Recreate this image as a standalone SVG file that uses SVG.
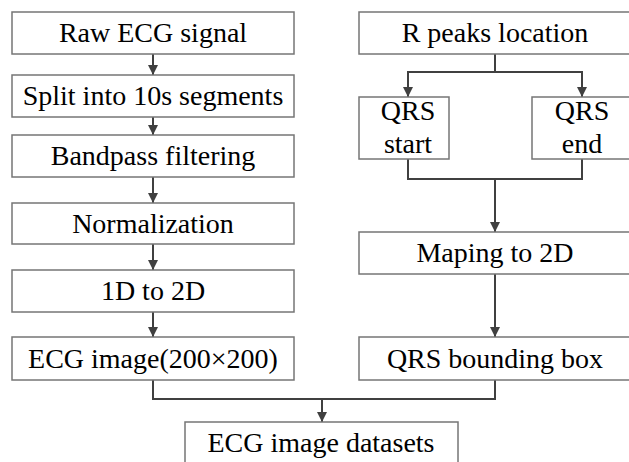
<svg xmlns="http://www.w3.org/2000/svg" width="629" height="462" viewBox="0 0 629 462">
<defs>
<style>
.box{fill:#fff;stroke:#767676;stroke-width:1.5}
.t{font-family:'Liberation Serif','DejaVu Serif',serif;font-size:28px;fill:#000;text-anchor:middle}
.c{fill:none;stroke:#404040;stroke-width:2}
</style>
<marker id="ah" viewBox="0 0 10 10" refX="10" refY="5" markerWidth="10" markerHeight="10" markerUnits="userSpaceOnUse" orient="auto">
<path d="M0,0 L10,5 L0,10 Z" fill="#404040"/>
</marker>
</defs>
<rect width="629" height="462" fill="#fff"/>
<g id="connectors">
<path class="c" d="M153,54 V75" marker-end="url(#ah)"/>
<path class="c" d="M153,117 V135" marker-end="url(#ah)"/>
<path class="c" d="M153,177 V203" marker-end="url(#ah)"/>
<path class="c" d="M153,244 V270" marker-end="url(#ah)"/>
<path class="c" d="M153,312 V337" marker-end="url(#ah)"/>
<path class="c" d="M495,54 V72"/>
<path class="c" d="M408,72 H582"/>
<path class="c" d="M408,71 V97" marker-end="url(#ah)"/>
<path class="c" d="M582,71 V97" marker-end="url(#ah)"/>
<path class="c" d="M408,159 V179 H582 V159"/>
<path class="c" d="M495,179 V232" marker-end="url(#ah)"/>
<path class="c" d="M495,274 V337" marker-end="url(#ah)"/>
<path class="c" d="M153,380 V399 H495 V380"/>
<path class="c" d="M322,399 V422" marker-end="url(#ah)"/>
</g>
<g id="raw"><rect class="box" x="12" y="12" width="282" height="42"/><text class="t" x="153" y="42">Raw ECG signal</text></g>
<g id="split"><rect class="box" x="12" y="75" width="282" height="42"/><text class="t" x="153" y="105">Split into 10s segments</text></g>
<g id="bandpass"><rect class="box" x="12" y="135" width="282" height="42"/><text class="t" x="153" y="165">Bandpass filtering</text></g>
<g id="norm"><rect class="box" x="12" y="203" width="282" height="41"/><text class="t" x="153" y="233">Normalization</text></g>
<g id="oned"><rect class="box" x="12" y="270" width="282" height="42"/><text class="t" x="153" y="300">1D to 2D</text></g>
<g id="ecgimg"><rect class="box" x="12" y="337" width="282" height="43"/><text class="t" x="153" y="368">ECG image(200×200)</text></g>
<g id="rpeaks"><rect class="box" x="359" y="12" width="272" height="42"/><text class="t" x="495" y="42">R peaks location</text></g>
<g id="qrsstart"><rect class="box" x="359" y="97" width="90" height="62"/><text class="t" x="408" y="120">QRS</text><text class="t" x="408" y="153">start</text></g>
<g id="qrsend"><rect class="box" x="532" y="97" width="99" height="62"/><text class="t" x="582" y="120">QRS</text><text class="t" x="582" y="153">end</text></g>
<g id="maping"><rect class="box" x="359" y="232" width="272" height="42"/><text class="t" x="495" y="262">Maping to 2D</text></g>
<g id="qrsbox"><rect class="box" x="359" y="337" width="272" height="43"/><text class="t" x="495" y="368">QRS bounding box</text></g>
<g id="datasets"><rect class="box" x="185" y="422" width="273" height="48"/><text class="t" x="321" y="452">ECG image datasets</text></g>
</svg>
